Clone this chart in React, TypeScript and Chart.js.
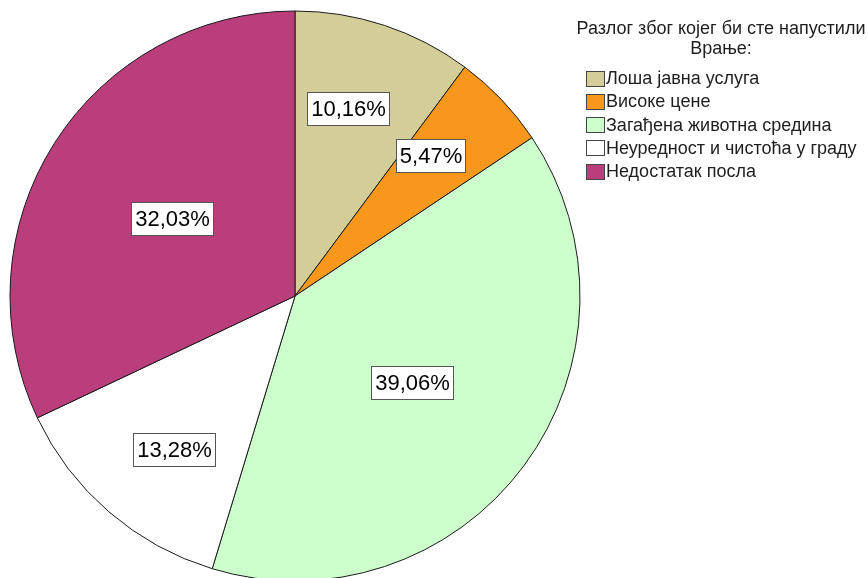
import React, { useEffect, useRef } from "react";
import { Chart, registerables } from "chart.js";

Chart.register(...registerables);

const categories = [
  "Лоша јавна услуга",
  "Високе цене",
  "Загађена животна средина",
  "Неуредност и чистоћа у граду",
  "Недостатак посла",
];
const percentages = [10.16, 5.47, 39.06, 13.28, 32.03];
const legendTitle = ["Разлог због којег би сте напустили", "Врање:"];

const sliceColors = ["#D3CE97", "#F7981D", "#CCFFCC", "#FFFFFF", "#BA3D7C"];
const FONT = "'Liberation Sans', Arial, sans-serif";

const fmt = (v: number) => v.toFixed(2).replace(".", ",") + "%";

const labelPlugin = {
  id: "sliceLabels",
  afterDatasetsDraw(chart: any) {
    const ctx = chart.ctx;
    const meta = chart.getDatasetMeta(0);
    const values = chart.data.datasets[0].data as number[];
    ctx.save();
    ctx.font = `22px ${FONT}`;
    ctx.textAlign = "center";
    ctx.textBaseline = "middle";
    meta.data.forEach((arc: any, i: number) => {
      const { x, y, startAngle, endAngle, outerRadius } = arc.getProps(
        ["x", "y", "startAngle", "endAngle", "outerRadius"],
        true
      );
      const v = values[i];
      const mid = (startAngle + endAngle) / 2 - (v < 25 ? 0.045 : 0);
      const frac = v > 25 ? 0.51 : 0.685;
      const cx = x + Math.cos(mid) * outerRadius * frac;
      const cy = y + Math.sin(mid) * outerRadius * frac;
      const text = fmt(v);
      const w = Math.round(ctx.measureText(text).width + 7);
      const h = 33;
      const bx = Math.round(cx - w / 2) + 0.5;
      const by = Math.round(cy - h / 2) + 0.5;
      ctx.fillStyle = "#FFFFFF";
      ctx.fillRect(bx, by, w, h);
      ctx.strokeStyle = "#555555";
      ctx.lineWidth = 1;
      ctx.strokeRect(bx, by, w, h);
      ctx.fillStyle = "#000000";
      ctx.fillText(text, bx + w / 2, by + h / 2 + 1);
    });
    ctx.restore();
  },
};

const legendPlugin = {
  id: "customLegend",
  afterDraw(chart: any) {
    const ctx = chart.ctx;
    const ds = chart.data.datasets[0];
    const labels = chart.data.labels as string[];
    ctx.save();
    ctx.font = `18px ${FONT}`;
    ctx.fillStyle = "#1E1E1E";
    ctx.textAlign = "center";
    ctx.textBaseline = "alphabetic";
    const titleX = 721;
    legendTitle.forEach((line, i) => {
      ctx.fillText(line, titleX, 34 + i * 20);
    });
    ctx.textAlign = "left";
    ctx.textBaseline = "middle";
    labels.forEach((lab, i) => {
      const cy = 78 + i * 23.3;
      const bx = 586.5;
      const by = Math.round(cy - 7.5) + 0.5;
      ctx.fillStyle = ds.backgroundColor[i];
      ctx.fillRect(bx, by, 18, 15);
      ctx.strokeStyle = "#444444";
      ctx.lineWidth = 1;
      ctx.strokeRect(bx, by, 18, 15);
      ctx.fillStyle = "#1E1E1E";
      ctx.fillText(lab, 606, cy + 1);
    });
    ctx.restore();
  },
};

export default function App() {
  const ref = useRef<HTMLCanvasElement | null>(null);
  useEffect(() => {
    if (!ref.current) return;
    const chart = new Chart(ref.current, {
      type: "pie",
      data: {
        labels: categories,
        datasets: [
          {
            data: percentages,
            backgroundColor: sliceColors,
            borderColor: "#1A1A1A",
            borderWidth: 1,
            clip: false as any,
          } as any,
        ],
      },
      options: {
        animation: false,
        responsive: true,
        maintainAspectRatio: false,
        radius: 285,
        layout: { padding: { left: 0, right: 278, top: 14, bottom: 0 } },
        plugins: {
          legend: { display: false },
          tooltip: { enabled: false },
        },
      } as any,
      plugins: [labelPlugin, legendPlugin],
    });
    return () => chart.destroy();
  }, []);
  return (
    <div
      style={{
        position: "fixed",
        left: 0,
        top: 0,
        width: 868,
        height: 578,
        background: "#fff",
        overflow: "hidden",
      }}
    >
      <canvas ref={ref} />
    </div>
  );
}
